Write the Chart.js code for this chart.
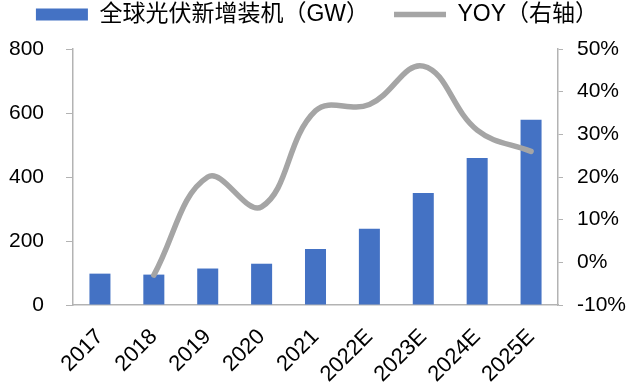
<!DOCTYPE html>
<html>
<head>
<meta charset="utf-8">
<script src="https://cdn.jsdelivr.net/npm/chart.js@4"></script>
<style>
  html, body { margin: 0; padding: 0; background: #fff; }
  #wrap { width: 640px; height: 392px; }
</style>
</head>
<body>
<div id="wrap"><canvas id="barChart" width="640" height="392"></canvas></div>
<script>
const years = ['2017', '2018', '2019', '2020', '2021', '2022E', '2023E', '2024E', '2025E'];
const installs = [98, 95, 114, 129, 175, 238, 350, 459, 579];
const yoy = [null, -3, 20, 13, 35.5, 37, 46, 31, 26];
const leftTicks = [0, 200, 400, 600, 800];
const rightTicks = [-10, 0, 10, 20, 30, 40, 50];

const FONT = "'Liberation Sans', Arial, 'Noto Sans CJK SC', sans-serif";
const BLUE = '#4472C4';
const GREY = '#A5A5A5';
const AXIS = '#B3B3B3';

const CHART = document.getElementById('barChart');

// legend sits higher and a bit left in the original; chart area starts at y=49
const legendNudge = {
    id: 'legendNudge',
    beforeLayout(chart) {
        const leg = chart.legend;
        if (leg && !leg._wrapped) {
            const fit = leg.fit;
            leg.fit = function () { fit.call(this); this.height = 49; };
            leg._wrapped = true;
        }
    },
    afterLayout(chart) {
        const leg = chart.legend;
        if (!leg) return;
        leg.top -= 22;
        leg.bottom -= 22;
        leg.left -= 3;
        leg.right -= 3;
    }
};

let chart = new Chart(CHART, {
    type: 'bar',
    data: {
        labels: years,
        datasets: [
            {
                type: 'line',
                label: 'YOY（右轴）',
                data: yoy,
                yAxisID: 'y1',
                borderColor: GREY,
                backgroundColor: GREY,
                borderWidth: 5.5,
                borderCapStyle: 'round',
                pointRadius: 0,
                tension: 0.4,
                order: 0
            }, {
                type: 'bar',
                label: '全球光伏新增装机（GW）',
                data: installs,
                yAxisID: 'y',
                backgroundColor: BLUE,
                borderWidth: 0,
                barPercentage: 0.39,
                categoryPercentage: 1,
                order: 1
            }
        ]
    },
    options: {
        responsive: false,
        animation: false,
        layout: { padding: 0 },
        plugins: {
            tooltip: { enabled: false },
            legend: {
                display: true,
                position: 'top',
                labels: {
                    usePointStyle: true,
                    pointStyleWidth: 52,
                    boxHeight: 12,
                    padding: 25,
                    color: '#000',
                    font: { family: FONT, size: 23 },
                    generateLabels: function (c) {
                        return [
                            { text: '全球光伏新增装机（GW）', fillStyle: BLUE, strokeStyle: BLUE, lineWidth: 0, pointStyle: 'rect', datasetIndex: 1 },
                            { text: 'YOY（右轴）', fillStyle: GREY, strokeStyle: GREY, lineWidth: 5.5, pointStyle: 'line', datasetIndex: 0 }
                        ];
                    }
                }
            }
        },
        scales: {
            x: {
                grid: { display: false, drawTicks: false },
                border: { display: true, color: AXIS, width: 1.5 },
                ticks: {
                    color: '#000',
                    font: { family: FONT, size: 22 },
                    minRotation: 45,
                    maxRotation: 45,
                    padding: 19
                },
                afterFit: function (s) { s.height = 87; }
            },
            y: {
                position: 'left',
                min: 0,
                max: 800,
                afterBuildTicks: function (s) { s.ticks = leftTicks.map(v => ({ value: v })); },
                grid: { drawOnChartArea: false, drawTicks: true, tickLength: 7, color: AXIS },
                border: { display: true, color: AXIS, width: 1.5 },
                ticks: {
                    color: '#000',
                    font: { family: FONT, size: 21 },
                    padding: 22
                },
                afterFit: function (s) { s.width = 73; }
            },
            y1: {
                position: 'right',
                min: -10,
                max: 50,
                afterBuildTicks: function (s) { s.ticks = rightTicks.map(v => ({ value: v })); },
                grid: { drawOnChartArea: false, drawTicks: true, tickLength: 5, color: AXIS },
                border: { display: true, color: AXIS, width: 1.5 },
                ticks: {
                    color: '#000',
                    font: { family: FONT, size: 21 },
                    padding: 14,
                    callback: function (v) { return v + '%'; }
                },
                afterFit: function (s) { s.width = 82; }
            }
        }
    },
    plugins: [legendNudge]
});
</script>
</body>
</html>
